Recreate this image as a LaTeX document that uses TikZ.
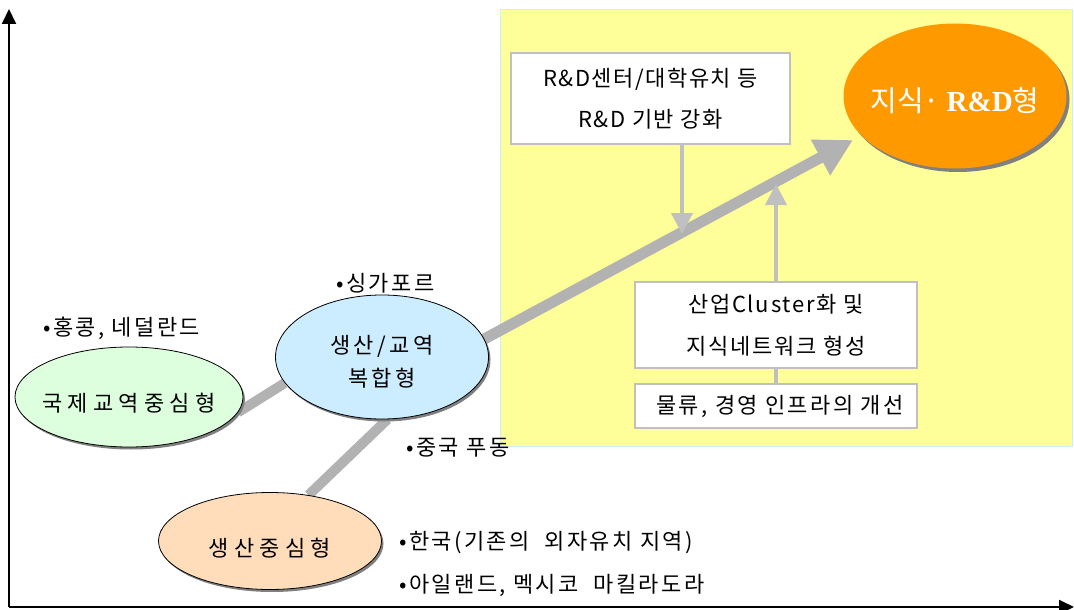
\documentclass[tikz,border=0pt]{standalone}
\usepackage{fontspec}
\setmainfont{Noto Sans CJK KR}
\newfontfamily\serifbold{Liberation Serif}[BoldFont={Liberation Serif Bold}]
\usetikzlibrary{arrows.meta,shapes.geometric,shadows,backgrounds}
\definecolor{zoneyellow}{HTML}{FFFF99}
\definecolor{zoneedge}{HTML}{CCECFF}
\definecolor{linkgray}{HTML}{B2B2B2}
\definecolor{arrgray}{HTML}{C0C0C0}
\definecolor{boxgray}{HTML}{C0C0C0}
\definecolor{shadowgray}{HTML}{808080}
\definecolor{mint}{HTML}{DDFFDD}
\definecolor{skyblue}{HTML}{CCECFF}
\definecolor{peach}{HTML}{FFDDBB}
\definecolor{deeporange}{HTML}{FF9900}
\newcommand{\ls}[1]{\addfontfeatures{LetterSpace=#1}}
\begin{document}
\begin{tikzpicture}[x=1pt,y=-1pt,
  axis/.style={line width=2pt,-{Triangle[length=15pt,width=14pt]}},
  link/.style={line width=10pt,draw=linkgray},
  oval/.style={ellipse,draw=black,line width=0.8pt,inner sep=0pt,
    drop shadow={shadow xshift=2pt,shadow yshift=-2.5pt,fill=shadowgray,opacity=1}},
  infobox/.style={rectangle,draw=boxgray,line width=1.5pt,fill=white,inner sep=0pt,align=center},
  thinarrow/.style={line width=4pt,draw=arrgray,-{Triangle[length=21pt,width=21pt]}},
  bullettext/.style={anchor=west,inner sep=0pt,font=\fontsize{22}{26}\selectfont\ls{11}},
]
\useasboundingbox (0,0) rectangle (1074,610);

% yellow zone
\begin{scope}[on background layer]
\node[rectangle,fill=zoneyellow,draw=zoneedge,line width=1pt,minimum width=572pt,minimum height=436pt,inner sep=0pt] (zone) at (786,228) {};
\end{scope}

% axes
\coordinate (origin) at (9,607);
\coordinate (ytop) at (9,9);
\coordinate (xend) at (1074,607);
\draw[axis] (origin) -- (ytop);
\draw[axis] (origin) -- (xend);

% ellipses
\node[oval,fill=mint,minimum width=228pt,minimum height=100pt,font=\fontsize{22}{26}\selectfont\ls{24}] (green) at (129,397) {\makebox[0pt]{\rule{0pt}{31pt}국제교역중심형}};
\node[oval,fill=skyblue,minimum width=213pt,minimum height=124pt,font=\fontsize{22}{32}\selectfont\ls{16}] (blue) at (382,357) {\makebox[0pt]{\begin{tabular}{@{}c@{}}\rule{0pt}{36pt}생산/교역\\[1pt]복합형\end{tabular}}};
\node[oval,fill=peach,minimum width=223pt,minimum height=97pt,font=\fontsize{22}{26}\selectfont\ls{24}] (prod) at (270,541) {\makebox[0pt]{\rule{0pt}{33pt}생산중심형}};
\node[ellipse,fill=deeporange,inner sep=0pt,minimum width=223pt,minimum height=145pt,text=white,
  drop shadow={shadow xshift=3pt,shadow yshift=-3.5pt,fill=shadowgray,opacity=1},
  font=\fontsize{29}{34}\selectfont] (know) at (955,96) {\makebox[0pt]{\rule{0pt}{34pt}지식· {\serifbold\bfseries R\&D}형}};

% boxes
\node[infobox,minimum width=279pt,minimum height=91pt,font=\fontsize{22}{41}\selectfont\ls{7}] (rnd) at (650.5,98.5) {R\&D센터/대학유치 등\\R\&D 기반 강화};
\node[infobox,minimum width=282pt,minimum height=86pt,font=\fontsize{22}{42}\selectfont\ls{8}] (cluster) at (776,325) {산업Cluster화 및\\지식네트워크 형성};
\node[infobox,minimum width=282pt,minimum height=44pt,font=\fontsize{22}{26}\selectfont\ls{11}] (infra) at (776,406) {\hspace*{8pt}물류, 경영 인프라의 개선};

% bullet labels
\node[bullettext] (sg) at (336,283) {•싱가포르};
\node[bullettext] (hk) at (43,328) {•홍콩, 네덜란드};
\node[bullettext] (pd) at (406,448) {•중국 푸동};
\node[bullettext] (kr) at (399,543) {•한국(기존의\ \ 외자유치 지역)};
\node[bullettext] (ie) at (399,585) {•아일랜드, 멕시코\ \ 마킬라도라};

% connectors
\coordinate (bigtip) at (853,140);
\begin{scope}[on background layer]
\draw[link] (green.352) -- (blue.195);
\draw[link] (blue.275) -- (prod.50);
\draw[line width=11pt,draw=linkgray,-{Triangle[length=37pt,width=38pt]}] (blue.10) -- (bigtip);
\end{scope}
\coordinate (downtip) at (682,234);
\coordinate (uptip) at (776,184);
\draw[thinarrow] (rnd.south -| downtip) -- (downtip);
\draw[thinarrow] (cluster.north) -- (uptip);
\draw[line width=4pt,draw=arrgray] (cluster.south) -- (infra.north);
\end{tikzpicture}
\end{document}
